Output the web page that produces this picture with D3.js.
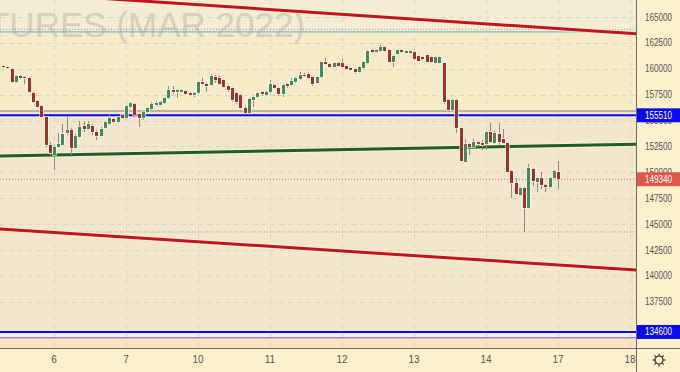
<!DOCTYPE html>
<html><head><meta charset="utf-8">
<script src="https://cdn.jsdelivr.net/npm/d3@7"></script>
<style>html,body{margin:0;padding:0;background:#fcf1cd;}svg{display:block;}</style>
</head><body>
<script>
// ---- data ----
const opens  = [160270,160170,159980,158730,159310,159210,159120,157670,156900,156420,155350,152650,151680,152460,152650,153810,154100,152360,153420,154480,154190,154480,153900,153520,154290,154680,155160,154870,155550,155260,156320,156610,155640,155260,155840,156130,156510,156510,156700,157190,157960,157770,157770,157860,157670,157480,157670,158730,158540,158440,159210,159120,158920,158340,158150,157670,157480,156220,155740,157000,157280,157770,157480,157770,158440,158150,157570,158540,158440,158730,159020,159400,159500,159210,158630,159210,160660,160460,160170,160560,160560,160270,160080,159980,159690,160080,160560,161820,161620,161720,162110,161820,160660,161430,161820,161530,161530,161620,161240,161140,161330,161140,160560,160560,160560,157000,156030,157000,154290,151010,152750,152460,152940,152840,152750,153900,152840,153710,153230,152840,150140,148980,147820,148500,146570,150330,149080,149460,148790,148590,149460,150040];
const highs  = [160370,160270,160080,159400,159400,159310,159210,157770,157000,156510,155450,152940,152650,153810,154680,155350,154290,153710,154970,154870,154970,154680,154100,154390,154970,155550,155260,155450,155640,156510,156800,156700,155740,155930,156320,156800,156900,156900,157280,158340,158340,158050,158050,157960,157770,157770,158830,159120,158630,159500,159400,159310,159020,158440,158250,157770,157570,156420,157190,157380,157770,157860,157860,158920,158540,158250,158540,158630,159120,159210,159690,159600,159690,159310,159310,160750,161040,160560,160660,160660,160950,160370,160170,160080,160270,160750,161820,161910,161910,162300,162200,161910,161330,161910,161910,161820,161820,161720,161330,161240,161430,161240,161240,161240,160660,157090,157090,157090,154390,153230,152840,153230,153030,153130,154000,154770,154100,154770,154190,152940,150240,149460,148590,148590,150810,150430,149560,150040,148880,149560,150240,151100];
const lows   = [160080,159980,158630,158630,159020,158540,157670,156700,156220,155260,152460,151680,150240,152360,152550,153610,151680,152260,153320,153900,154100,153610,153130,153420,154190,154580,154770,154770,155160,155160,156220,155450,154390,155060,155740,156030,156420,156420,156610,157090,157570,157190,157670,157480,157380,157280,157570,158440,157770,158340,158630,158440,158150,157770,156800,156610,156130,155640,155640,156320,157190,157380,157380,157670,158050,157380,157280,158150,158340,158630,158920,159210,159020,158340,158540,159120,160370,160080,160080,160170,160080,159890,159790,159500,159600,159980,160460,161530,161530,161620,161620,160560,160170,161330,161530,161430,161430,160850,160660,160850,160560,160560,160460,160460,156610,155840,155930,153810,151010,150910,151680,152360,152460,152170,152170,152840,152750,152650,152750,149950,147530,147820,147730,144250,146470,148690,148110,148400,148110,148500,149370,148400];
const closes = [160170,160080,158730,159310,159120,159120,157770,156800,156320,155350,152650,151880,152460,152750,153710,154100,152360,153520,154390,154190,154680,153900,153520,154190,154870,155260,154870,155350,155260,156420,156700,155550,155260,155840,156220,156610,156700,156800,157190,157960,157770,157960,157960,157570,157480,157670,158730,158540,158340,159310,158920,158540,158250,157960,157000,156800,156220,155740,157090,157280,157670,157570,157770,158540,158150,157570,158440,158340,158830,159120,159400,159310,159120,158540,159210,160660,160460,160170,160560,160270,160170,159980,159890,159690,160170,160660,161720,161620,161820,162110,161720,160660,161240,161820,161620,161720,161720,160950,160750,160950,160660,160660,161140,161140,156800,156030,157000,154290,151100,152750,152460,152940,152750,152650,153900,152940,153810,152940,152840,150040,148980,147920,148500,146570,150430,149170,149460,148790,148590,149460,150140,149340];

const priceTicks = [137500,140000,142500,145000,147500,150000,152500,155000,157500,160000,162500,165000];
const dayLabels  = ["6","7","10","11","12","13","14","17","18"];
const dayIndex   = [12,29,46,63,80,97,114,131,148];

// trend lines: [index, price] endpoints
const upperRed = [[-1,167460],[151,163340]];
const lowerRed = [[-1,144550],[151,140540]];
const greenLine = [[-1,151590],[151,152740]];

const levelBlue = [155510,134600];
const currentPrice = 149340;
const cyanLevel = 163560;
const grayDotted = [163810,144250];
const grayLevel = 155930;
const lavenderLevel = 134050;

// ---- layout ----
const W=680,H=372,PW=636,PH=348;
const svg=d3.select("body").append("svg").attr("width",W).attr("height",H);
const x=d3.scaleLinear().domain([0,17]).range([3.18,3.18+72]);
const y=d3.scaleLinear().domain([133050,166641]).range([PH,0]);

// backgrounds
svg.append("rect").attr("x",0).attr("y",0).attr("width",W).attr("height",H).attr("fill","#fcf1cd");
const bands=[
  [166641,163810,"#f4ecd3"],
  [163810,155930,"#f8ecc8"],
  [155930,134600,"#f2e6cd"],
  [134600,134050,"#f8efe0"],
  [134050,133050,"#fde3c0"]
];
svg.append("g").selectAll("rect").data(bands).join("rect")
  .attr("x",0).attr("width",PW)
  .attr("y",d=>y(d[0])).attr("height",d=>y(d[1])-y(d[0]))
  .attr("fill",d=>d[2]);

const plot=svg.append("g");
svg.append("clipPath").attr("id","clip").append("rect").attr("width",PW).attr("height",PH);
plot.attr("clip-path","url(#clip)");

// watermark
plot.append("text").attr("x",305).attr("y",37).attr("text-anchor","end")
  .attr("font-family","Liberation Sans, Arial, sans-serif").attr("font-size",35)
  .attr("fill","#d6cfbd").text("FUTURES (MAR 2022)");

// grid
plot.append("g").selectAll("line").data(priceTicks).join("line")
  .attr("x1",0).attr("x2",PW).attr("y1",d=>Math.round(y(d))+0.5).attr("y2",d=>Math.round(y(d))+0.5)
  .attr("stroke","#dcd6c8").attr("stroke-dasharray","5,4");
plot.append("g").selectAll("line").data(dayIndex).join("line")
  .attr("y1",0).attr("y2",PH).attr("x1",d=>Math.round(x(d))+0.5).attr("x2",d=>Math.round(x(d))+0.5)
  .attr("stroke","#dcd6c8").attr("stroke-dasharray","5,4");

// level lines
const hline=(v,color,w,dash)=>plot.append("line").attr("x1",0).attr("x2",PW)
  .attr("y1",y(v)).attr("y2",y(v)).attr("stroke",color).attr("stroke-width",w)
  .attr("stroke-dasharray",dash||null);
grayDotted.forEach(v=>hline(v,"#9a9488",1,"1,2"));
hline(cyanLevel,"#6bbfd8",1.2);
hline(grayLevel,"#bbb3a0",2);
hline(lavenderLevel,"#8a8ae0",1.5);
levelBlue.forEach(v=>hline(v,"#0a0af0",2));
hline(currentPrice,"#e4604e",1,"1,2");

// trend lines
const lineGen=d3.line().x(d=>x(d[0])).y(d=>y(d[1]));
[[upperRed,"#c1141c"],[lowerRed,"#c1141c"],[greenLine,"#1e5e1e"]].forEach(([pts,c])=>{
  plot.append("path").attr("d",lineGen(pts)).attr("stroke","#fff6e4").attr("stroke-width",5).attr("stroke-opacity",0.6).attr("fill","none");
  plot.append("path").attr("d",lineGen(pts)).attr("stroke",c).attr("stroke-width",3).attr("fill","none");
});

// candles
const idx=d3.range(opens.length);
const cg=plot.append("g");
cg.selectAll("line").data(idx).join("line")
  .attr("x1",i=>Math.round(x(i))+0.5).attr("x2",i=>Math.round(x(i))+0.5)
  .attr("y1",i=>y(highs[i])).attr("y2",i=>y(lows[i]))
  .attr("stroke","#8c8a86").attr("stroke-width",1);
cg.selectAll("rect.halo").data(idx).join("rect").attr("class","halo")
  .attr("x",i=>Math.round(x(i))-2).attr("width",5)
  .attr("y",i=>y(Math.max(opens[i],closes[i]))-1)
  .attr("height",i=>Math.max(1,Math.abs(y(opens[i])-y(closes[i])))+2)
  .attr("fill","#fffaf0").attr("opacity",0.6);
cg.selectAll("rect.body").data(idx).join("rect").attr("class","body")
  .attr("x",i=>Math.round(x(i))-1).attr("width",3)
  .attr("y",i=>y(Math.max(opens[i],closes[i])))
  .attr("height",i=>Math.max(1,Math.abs(y(opens[i])-y(closes[i]))))
  .attr("fill",i=>closes[i]>=opens[i]?"#3e8c60":"#a3302a");

// axes frames
svg.append("line").attr("x1",PW+0.5).attr("x2",PW+0.5).attr("y1",0).attr("y2",H).attr("stroke","#6b6b6b");
svg.append("line").attr("x1",0).attr("x2",W).attr("y1",PH+0.5).attr("y2",PH+0.5).attr("stroke","#6b6b6b");

// y tick labels
svg.append("g").selectAll("text").data(priceTicks).join("text")
  .attr("x",645).attr("y",d=>y(d)).attr("dy","0.35em")
  .attr("font-family","Liberation Sans, Arial, sans-serif").attr("font-size",10)
  .attr("textLength",27).attr("lengthAdjust","spacingAndGlyphs")
  .attr("fill","#555").text(d=>d);

// x tick labels
svg.append("g").selectAll("text").data(dayIndex).join("text")
  .attr("x",d=>x(d)).attr("y",363).attr("text-anchor","middle")
  .attr("font-family","Liberation Sans, Arial, sans-serif").attr("font-size",10)
  .attr("fill","#555").text((d,i)=>dayLabels[i]);

// price boxes
const boxes=[[levelBlue[0],"#0a0af0"],[levelBlue[1],"#0a0af0"],[currentPrice,"#e0584a"]];
const bg=svg.append("g");
boxes.forEach(([v,c])=>{
  bg.append("rect").attr("x",PW+1).attr("y",y(v)-7).attr("width",W-PW-1).attr("height",14).attr("fill",c);
  bg.append("text").attr("x",645).attr("y",y(v)).attr("dy","0.35em")
    .attr("font-family","Liberation Sans, Arial, sans-serif").attr("font-size",10)
    .attr("textLength",27).attr("lengthAdjust","spacingAndGlyphs")
    .attr("fill","#fff").text(v);
});

// settings icon
const ic=svg.append("g").attr("transform","translate(659,360)");
ic.append("circle").attr("r",4).attr("fill","none").attr("stroke","#333").attr("stroke-width",1.2);
d3.range(8).forEach(k=>{
  const a=k*Math.PI/4;
  ic.append("line").attr("x1",Math.cos(a)*4).attr("y1",Math.sin(a)*4)
    .attr("x2",Math.cos(a)*6.5).attr("y2",Math.sin(a)*6.5).attr("stroke","#333").attr("stroke-width",1.2);
});
</script>
</body></html>
